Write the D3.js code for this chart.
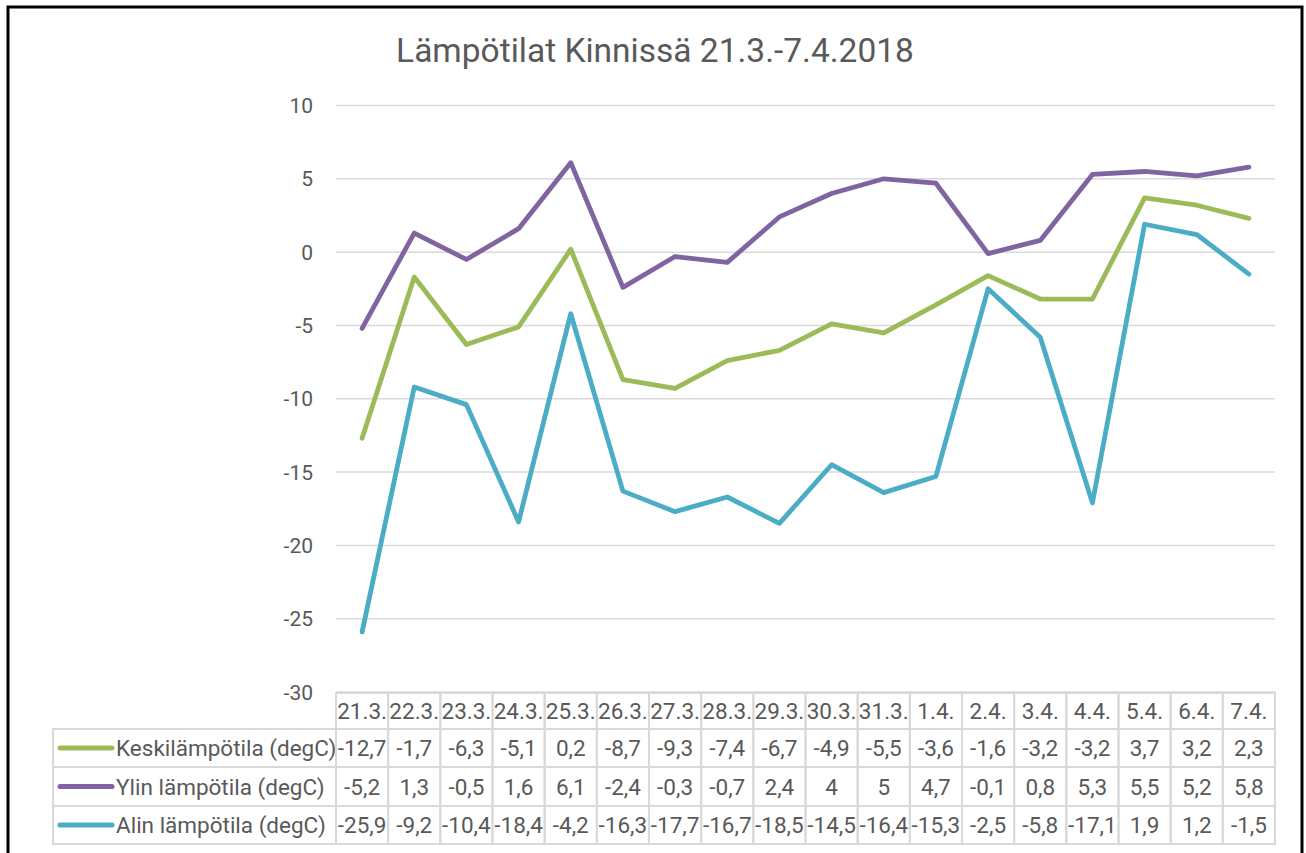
<!DOCTYPE html>
<html>
<head>
<meta charset="utf-8">
<script src="https://cdn.jsdelivr.net/npm/d3@7"></script>
<style>
  body { margin: 0; background: #fff; }
  svg { display: block; font-family: Roboto, "Open Sans", sans-serif; }
  .grid line { stroke: #d9d9d9; stroke-width: 1.5; }
  .cell { fill: none; stroke: #d9d9d9; stroke-width: 2; }
  .lbl { fill: #595959; font-size: 21px; }
  .tbl { fill: #595959; font-size: 22.5px; }
  .series { fill: none; stroke-width: 4.8; stroke-linecap: round; stroke-linejoin: round; }
</style>
</head>
<body>
<div id="chart"></div>
<script>
const dates = ['21.3.', '22.3.', '23.3.', '24.3.', '25.3.', '26.3.', '27.3.', '28.3.', '29.3.',
  '30.3.', '31.3.', '1.4.', '2.4.', '3.4.', '4.4.', '5.4.', '6.4.', '7.4.']
const keski = [-12.7, -1.7, -6.3, -5.1, 0.2, -8.7, -9.3, -7.4, -6.7, -4.9, -5.5, -3.6, -1.6, -3.2, -3.2, 3.7, 3.2, 2.3]
const ylin = [-5.2, 1.3, -0.5, 1.6, 6.1, -2.4, -0.3, -0.7, 2.4, 4, 5, 4.7, -0.1, 0.8, 5.3, 5.5, 5.2, 5.8]
const alin = [-25.9, -9.2, -10.4, -18.4, -4.2, -16.3, -17.7, -16.7, -18.5, -14.5, -16.4, -15.3, -2.5, -5.8, -17.1, 1.9, 1.2, -1.5]
const yTicks = [10, 5, 0, -5, -10, -15, -20, -25, -30]
const title = 'Lämpötilat Kinnissä 21.3.-7.4.2018'

const series = [
  { name: 'Keskilämpötila (degC)', values: keski, color: '#9bbb59' },
  { name: 'Ylin lämpötila (degC)', values: ylin, color: '#8064a2' },
  { name: 'Alin lämpötila (degC)', values: alin, color: '#4bacc6' }
]

const width = 1306, height = 853
const svg = d3.select('#chart').append('svg')
  .attr('width', width).attr('height', height)

// outer frame (bottom edge falls outside the picture)
svg.append('rect')
  .attr('x', 8).attr('y', 7).attr('width', 1294).attr('height', 900)
  .attr('fill', '#fff').attr('stroke', '#000').attr('stroke-width', 3)

svg.append('text')
  .attr('x', 655).attr('y', 62)
  .attr('text-anchor', 'middle')
  .attr('fill', '#595959')
  .style('font-size', '33.5px')
  .text(title)

const scaleX = d3.scaleBand().domain(dates).range([336, 1275])
const scaleY = d3.scaleLinear().domain([-30, 10]).range([692, 105.5])

const grid = svg.append('g').attr('class', 'grid')
grid.selectAll('line')
  .data(yTicks)
  .enter()
  .append('line')
  .attr('x1', 336).attr('x2', 1275)
  .attr('y1', d => scaleY(d)).attr('y2', d => scaleY(d))

svg.append('g').selectAll('text')
  .data(yTicks)
  .enter()
  .append('text')
  .attr('class', 'lbl')
  .attr('x', 313)
  .attr('y', d => scaleY(d))
  .attr('dy', '0.36em')
  .attr('text-anchor', 'end')
  .text(d => d)

const line = d3.line()
  .x((d, i) => scaleX(dates[i]) + scaleX.bandwidth() / 2)
  .y(d => scaleY(d))

svg.append('g').selectAll('path')
  .data(series)
  .enter()
  .append('path')
  .attr('class', 'series')
  .attr('stroke', d => d.color)
  .attr('d', d => line(d.values))

// data table
const rowTops = [693, 729, 767, 806, 844]
const legendLeft = 53
const fmt = v => String(v).replace('.', ',')

const table = svg.append('g')
table.selectAll('rect.head')
  .data(dates)
  .enter()
  .append('rect')
  .attr('class', 'cell')
  .attr('x', d => scaleX(d)).attr('y', rowTops[0])
  .attr('width', scaleX.bandwidth()).attr('height', rowTops[1] - rowTops[0])
table.selectAll('text.head')
  .data(dates)
  .enter()
  .append('text')
  .attr('class', 'tbl')
  .attr('x', d => scaleX(d) + scaleX.bandwidth() / 2)
  .attr('y', (rowTops[0] + rowTops[1]) / 2)
  .attr('dy', '0.36em')
  .attr('text-anchor', 'middle')
  .text(d => d)

series.forEach((s, r) => {
  const top = rowTops[r + 1], bottom = rowTops[r + 2]
  const mid = (top + bottom) / 2
  const row = table.append('g')
  row.append('rect')
    .attr('class', 'cell')
    .attr('x', legendLeft).attr('y', top)
    .attr('width', 336 - legendLeft).attr('height', bottom - top)
  row.append('line')
    .attr('x1', 60).attr('x2', 112)
    .attr('y1', mid).attr('y2', mid)
    .attr('stroke', s.color).attr('stroke-width', 5).attr('stroke-linecap', 'round')
  row.append('text')
    .attr('class', 'tbl')
    .attr('x', 116).attr('y', mid).attr('dy', '0.36em')
    .text(s.name)
  row.selectAll('rect.v')
    .data(s.values)
    .enter()
    .append('rect')
    .attr('class', 'cell')
    .attr('x', (d, i) => scaleX(dates[i])).attr('y', top)
    .attr('width', scaleX.bandwidth()).attr('height', bottom - top)
  row.selectAll('text.v')
    .data(s.values)
    .enter()
    .append('text')
    .attr('class', 'tbl')
    .attr('x', (d, i) => scaleX(dates[i]) + scaleX.bandwidth() / 2)
    .attr('y', mid).attr('dy', '0.36em')
    .attr('text-anchor', 'middle')
    .text(d => fmt(d))
})
</script>
</body>
</html>
